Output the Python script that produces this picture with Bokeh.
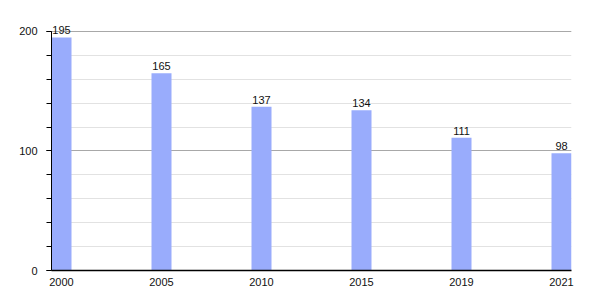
from bokeh.plotting import figure
from bokeh.models import ColumnDataSource, FixedTicker, SingleIntervalTicker, Range1d
from bokeh.embed import file_html
from bokeh.resources import INLINE
from bokeh.core.properties import value

years = ["2000", "2005", "2010", "2015", "2019", "2021"]
values = [195, 165, 137, 134, 111, 98]

pos = list(range(len(years)))
bar_w = 0.2
src = ColumnDataSource(dict(
    left=[p for p in pos],
    right=[p + bar_w for p in pos],
    center=[p + bar_w / 2 for p in pos],
    top=values,
    label=[str(v) for v in values],
))

p = figure(width=600, height=300, output_backend="svg", toolbar_location=None,
           x_range=Range1d(0, len(years) - 1 + bar_w), y_range=Range1d(0, 215),
           min_border_left=51, min_border_right=29, min_border_top=13, min_border_bottom=30)
p.outline_line_color = None
p.background_fill_color = "white"
p.border_fill_color = "white"

p.quad(left="left", right="right", bottom=0, top="top", source=src,
       fill_color="#99acfc", line_color=None)
p.text(x="center", y="top", text="label", source=src, text_align="center",
       text_baseline="bottom", y_offset=-3, text_font=value("Liberation Sans"),
       text_font_size="11px", text_color="#111111")

# x axis
p.xaxis.ticker = FixedTicker(ticks=[c + bar_w / 2 for c in pos])
p.xaxis.major_label_overrides = {c + bar_w / 2: y for c, y in zip(pos, years)}
p.xaxis.major_tick_line_color = None
p.xaxis.minor_tick_line_color = None
p.xaxis.axis_line_color = "black"
p.xaxis.axis_line_width = 1.5
p.xaxis.major_label_standoff = 1
p.xaxis.major_label_text_font = "Liberation Sans"
p.xaxis.major_label_text_font_size = "11px"
p.xaxis.major_label_text_color = "#111111"
p.xgrid.grid_line_color = None

# y axis
p.yaxis.ticker = SingleIntervalTicker(interval=100, num_minor_ticks=5)
p.yaxis.bounds = (0, 200)
p.yaxis.axis_line_color = "black"
p.yaxis.major_tick_out = 5
p.yaxis.major_tick_in = 0
p.yaxis.minor_tick_out = 5
p.yaxis.minor_tick_in = 0
p.yaxis.major_tick_line_color = "black"
p.yaxis.minor_tick_line_color = "black"
p.yaxis.major_label_standoff = 9
p.yaxis.major_label_text_font = "Liberation Sans"
p.yaxis.major_label_text_font_size = "11px"
p.yaxis.major_label_text_color = "#111111"
p.ygrid.bounds = (0, 200)
p.ygrid.grid_line_color = "#a8a8a8"
p.ygrid.minor_grid_line_color = "#e2e2e2"

open("out.html", "w").write(file_html(p, INLINE))
